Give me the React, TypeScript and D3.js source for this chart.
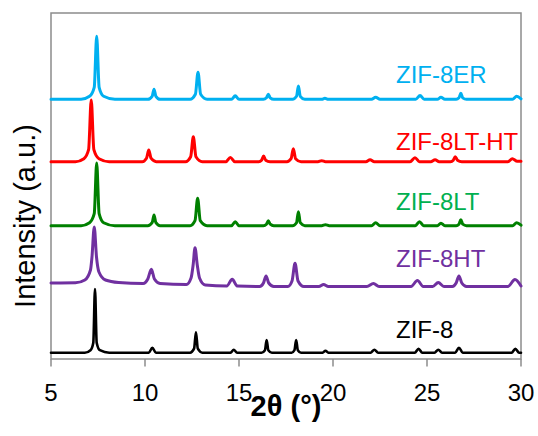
import React from "react";
import * as d3 from "d3";

// 2θ tick labels
const xTicks = [5, 10, 15, 20, 25, 30];

// Series names and colours
const seriesNames = ["ZIF-8ER", "ZIF-8LT-HT", "ZIF-8LT", "ZIF-8HT", "ZIF-8"];
const lineColors = ["#00B0F0", "#FF0000", "#008000", "#7030A0", "#000000"];
const textColors = ["#00B0F0", "#FF0000", "#00B050", "#7030A0", "#000000"];
// vertical stacking offsets (a.u.)
const offsets = [259.7, 197.3, 133.3, 72, 6.3];
// label anchor (2θ, a.u.)
const labelX = 23.35;
const labelY = [275.7, 209, 149, 91.7, 20.7];

// XRD patterns: [2θ, intensity a.u.]
const zif8ER: [number, number][] = [
  [5, 0], [6.6, 0], [7.05, 3], [7.3, 12], [7.43, 63], [7.56, 12], [7.8, 3], [8.4, 0],
  [10.15, 0], [10.38, 3], [10.48, 10], [10.58, 3], [10.8, 0],
  [12.4, 0], [12.68, 5], [12.82, 27], [12.96, 5], [13.3, 0],
  [14.6, 0], [14.8, 3.5], [15.0, 0],
  [16.3, 0], [16.46, 1.5], [16.56, 5], [16.66, 1.5], [16.85, 0],
  [17.85, 0], [18.06, 3], [18.16, 13.3], [18.26, 3], [18.5, 0],
  [19.4, 0], [19.57, 1], [19.75, 0],
  [22.05, 0], [22.27, 2], [22.5, 0],
  [24.4, 0], [24.63, 3.7], [24.85, 0],
  [25.55, 0], [25.74, 2], [25.95, 0],
  [26.55, 0], [26.7, 1.5], [26.8, 6], [26.9, 1.5], [27.1, 0],
  [29.55, 0], [29.77, 3], [30, 0.5],
];

const zif8LTHT: [number, number][] = [
  [5, 0], [6.3, 0], [6.75, 3], [7.0, 12], [7.14, 61.7], [7.28, 12], [7.55, 3], [8.1, 0],
  [9.85, 0], [10.08, 3.5], [10.2, 11.7], [10.32, 3.5], [10.6, 0],
  [12.15, 0], [12.43, 5], [12.57, 25], [12.71, 5], [13.05, 0],
  [14.3, 0], [14.54, 4.3], [14.78, 0],
  [16.05, 0], [16.2, 1.5], [16.31, 5.7], [16.42, 1.5], [16.65, 0],
  [17.55, 0], [17.77, 3], [17.89, 13], [18.01, 3], [18.3, 0],
  [19.2, 0], [19.4, 1], [19.6, 0],
  [21.75, 0], [21.97, 2], [22.2, 0],
  [24.1, 0], [24.36, 4], [24.6, 0],
  [25.2, 0], [25.43, 2], [25.65, 0],
  [26.25, 0], [26.4, 1.5], [26.5, 5], [26.62, 1.5], [26.85, 0],
  [29.3, 0], [29.54, 3], [29.8, 0.5], [30, 0.5],
];

const zif8LT: [number, number][] = [
  [5, 0], [6.6, 0], [7.05, 3], [7.3, 12], [7.43, 62.7], [7.56, 12], [7.8, 3], [8.4, 0],
  [10.15, 0], [10.38, 3], [10.48, 10.7], [10.58, 3], [10.8, 0],
  [12.4, 0], [12.66, 5], [12.8, 27.4], [12.94, 5], [13.3, 0],
  [14.6, 0], [14.8, 4], [15.0, 0],
  [16.3, 0], [16.46, 1.5], [16.56, 5], [16.66, 1.5], [16.85, 0],
  [17.85, 0], [18.06, 3], [18.16, 14], [18.26, 3], [18.5, 0],
  [19.4, 0], [19.6, 1], [19.8, 0],
  [22.05, 0], [22.27, 3], [22.5, 0],
  [24.38, 0], [24.6, 4], [24.82, 0],
  [25.55, 0], [25.74, 2.5], [25.95, 0],
  [26.55, 0], [26.7, 1.5], [26.8, 6], [26.9, 1.5], [27.1, 0],
  [29.55, 0], [29.77, 3], [30, 0.5],
];

const zif8HT: [number, number][] = [
  [5, 4], [6.3, 4.2], [6.8, 7], [7.1, 17], [7.18, 30], [7.3, 60], [7.42, 30], [7.55, 15], [7.9, 7], [8.6, 4.5],
  [9.9, 3.5], [10.15, 8], [10.34, 17.7], [10.5, 8], [10.8, 3.5],
  [12.2, 2.5], [12.45, 9], [12.56, 22], [12.66, 39.3], [12.78, 22], [12.9, 9], [13.2, 2],
  [14.35, 1], [14.64, 7.7], [14.9, 1],
  [16.1, 0.5], [16.3, 4], [16.44, 11], [16.58, 4], [16.85, 0.5],
  [17.6, 0.5], [17.82, 6], [17.98, 23.7], [18.14, 6], [18.45, 0.5],
  [19.25, 0.5], [19.5, 2.5], [19.75, 0.5],
  [21.8, 0.5], [22.15, 3.5], [22.45, 0.5],
  [24.15, 0.5], [24.49, 6.5], [24.8, 0.5],
  [25.3, 0.5], [25.6, 4.5], [25.9, 0.5],
  [26.35, 0.5], [26.55, 4], [26.7, 11], [26.85, 4], [27.1, 0.5],
  [29.3, 0.5], [29.68, 7.5], [30, 1],
];

const zif8: [number, number][] = [
  [5, 0], [6.8, 0], [7.1, 2.5], [7.25, 10], [7.34, 63.7], [7.43, 10], [7.6, 2.5], [8.1, 0],
  [10.2, 0], [10.39, 5], [10.58, 0],
  [12.4, 0], [12.61, 4], [12.71, 20.4], [12.81, 4], [13.05, 0],
  [14.55, 0], [14.72, 3], [14.9, 0],
  [16.2, 0], [16.38, 2.5], [16.47, 12.7], [16.56, 2.5], [16.75, 0],
  [17.8, 0], [17.95, 2.5], [18.04, 12.7], [18.13, 2.5], [18.3, 0],
  [19.45, 0], [19.6, 2], [19.75, 0],
  [22.0, 0], [22.2, 3], [22.4, 0],
  [24.35, 0], [24.55, 4], [24.75, 0],
  [25.4, 0], [25.6, 3], [25.8, 0],
  [26.5, 0], [26.7, 5], [26.9, 0],
  [29.5, 0], [29.7, 4], [29.9, 0], [30, 0],
];

const patterns = [zif8ER, zif8LTHT, zif8LT, zif8HT, zif8];

const W = 538;
const H = 436;
const margin = { left: 51, right: 17, top: 13, bottom: 77 };

export default function App() {
  const x = d3.scaleLinear().domain([5, 30]).range([margin.left, W - margin.right]);
  const y = d3.scaleLinear().domain([0, 346]).range([H - margin.bottom, margin.top]);
  const font = "'Liberation Sans', Arial, sans-serif";
  const axisColor = "#8c8c8c";

  return (
    <svg
      width={W}
      height={H}
      style={{ position: "absolute", left: 0, top: 0, background: "#fff" }}
      fontFamily={font}
    >
      {/* frame */}
      <rect
        x={x(5)}
        y={y(346)}
        width={x(30) - x(5)}
        height={y(0) - y(346)}
        fill="none"
        stroke={axisColor}
        strokeWidth={1.5}
      />
      {xTicks.map((t) => (
        <g key={t}>
          <line x1={x(t)} x2={x(t)} y1={y(0)} y2={y(0) + 7.5} stroke={axisColor} strokeWidth={1.5} />
          <text x={x(t)} y={y(0) + 42} textAnchor="middle" fontSize={24} fill="#000">
            {t}
          </text>
        </g>
      ))}

      {patterns.map((pts, i) => {
        const line = d3
          .line<[number, number]>()
          .x((d) => x(d[0]))
          .y((d) => y(d[1] + offsets[i]))
          .curve(d3.curveMonotoneX);
        return (
          <path
            key={seriesNames[i]}
            d={line(pts) || ""}
            fill="none"
            stroke={lineColors[i]}
            strokeWidth={i === 4 ? 2.6 : 3}
            strokeLinejoin="round"
            strokeLinecap="round"
          />
        );
      })}

      {seriesNames.map((n, i) => (
        <text key={n} x={x(labelX)} y={y(labelY[i])} fontSize={24} fill={textColors[i]}>
          {n}
        </text>
      ))}

      <text
        x={(x(5) + x(30)) / 2}
        y={416}
        textAnchor="middle"
        fontSize={29}
        fontWeight="bold"
        fill="#000"
      >
        2θ (°)
      </text>
      <text
        transform={`translate(35, 216) rotate(-90)`}
        textAnchor="middle"
        fontSize={29}
        fill="#000"
      >
        Intensity (a.u.)
      </text>
    </svg>
  );
}
